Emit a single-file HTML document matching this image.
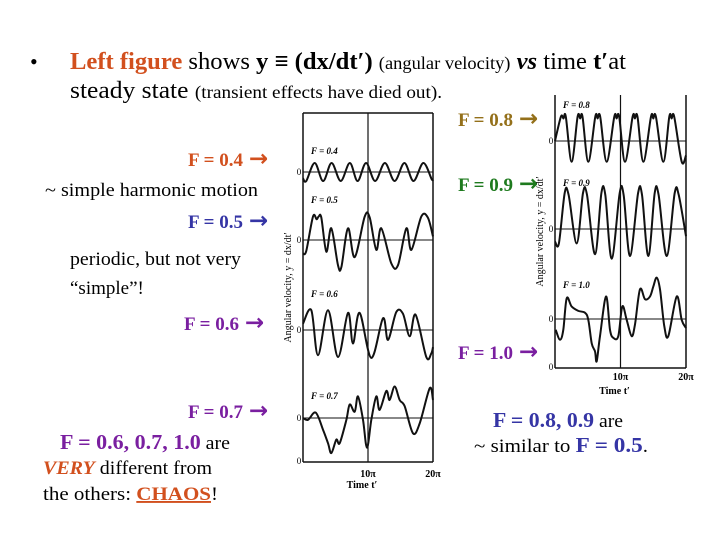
<!DOCTYPE html>
<html><head><meta charset="utf-8"><style>
html,body{margin:0;padding:0;background:#fff;}
svg{display:block;font-family:"Liberation Serif",serif;}
.b{font-weight:bold;}
.ar{font-family:"DejaVu Sans",sans-serif;font-weight:bold;}
</style></head><body>
<svg id="s" width="720" height="540" viewBox="0 0 720 540">
<g font-size="24">
<text x="30" y="69" font-size="22">•</text>
<text x="70" y="69" textLength="556" lengthAdjust="spacingAndGlyphs"><tspan class="b" fill="#d2501e">Left figure</tspan> shows <tspan class="b">y ≡ (dx/dt′)</tspan> <tspan font-size="18">(angular velocity)</tspan> <tspan font-style="italic" font-weight="bold">vs</tspan> time <tspan class="b">t′</tspan>at</text>
<text x="70" y="98" textLength="372" lengthAdjust="spacingAndGlyphs">steady state <tspan font-size="18">(transient effects have died out).</tspan></text>
</g>
<g font-size="19">
<text x="458" y="126" fill="#94701a" font-weight="bold">F = 0.8<tspan class="ar" dx="6" font-size="23">→</tspan></text>
<text x="188" y="166" fill="#d2501e" font-weight="bold">F = 0.4<tspan class="ar" dx="6" font-size="23">→</tspan></text>
<text x="188" y="228" fill="#3535a5" font-weight="bold">F = 0.5<tspan class="ar" dx="6" font-size="23">→</tspan></text>
<text x="184" y="330" fill="#7a1fa0" font-weight="bold">F = 0.6<tspan class="ar" dx="6" font-size="23">→</tspan></text>
<text x="458" y="191" fill="#1e7a1e" font-weight="bold">F = 0.9<tspan class="ar" dx="6" font-size="23">→</tspan></text>
<text x="458" y="359" fill="#7a1fa0" font-weight="bold">F = 1.0<tspan class="ar" dx="6" font-size="23">→</tspan></text>
<text x="188" y="418" fill="#7a1fa0" font-weight="bold">F = 0.7<tspan class="ar" dx="6" font-size="23">→</tspan></text>
</g>
<g font-size="19">
<text x="45" y="196" textLength="213" lengthAdjust="spacingAndGlyphs">~ simple harmonic motion</text>
<text x="70" y="265" textLength="171" lengthAdjust="spacingAndGlyphs">periodic, but not very</text>
<text x="70" y="294">“simple”!</text>
<text x="60" y="449" textLength="170" lengthAdjust="spacingAndGlyphs"><tspan font-size="21" font-weight="bold" fill="#7a1fa0">F = 0.6, 0.7, 1.0</tspan> are</text>
<text x="43" y="474" textLength="169" lengthAdjust="spacingAndGlyphs"><tspan font-weight="bold" font-style="italic" fill="#d2501e">VERY</tspan> different from</text>
<text x="43" y="500" textLength="175" lengthAdjust="spacingAndGlyphs">the others:  <tspan font-weight="bold" fill="#d2501e" text-decoration="underline">CHAOS</tspan>!</text>
<text x="493" y="427" textLength="130" lengthAdjust="spacingAndGlyphs"><tspan font-size="21" font-weight="bold" fill="#3535a5">F = 0.8, 0.9</tspan> are</text>
<text x="474" y="452" textLength="174" lengthAdjust="spacingAndGlyphs">~ similar  to <tspan font-size="21" font-weight="bold" fill="#3535a5">F = 0.5</tspan>.</text>
</g>
<g id="left"></g>
<g id="right"></g>
</svg>
<script>
const f04T=[0,0.5,1.8,3.1,4.4,5.8,7.2,8.4,9.7,11.1,12.6,14.1,15.6,17,18.5,19.8,20];
const f04Y=[-0.7,-1,1,-1,1,-1,1,-1,1,-1,1,-1,1,-1,1,-0.8,-0.8];
const f05T=[0,0.5,1.54,2.1,2.4,2.82,3.59,4.36,5.38,5.9,6.92,7.95,9.49,10.26,11.28,12.05,13.59,14.62,15.9,16.67,18.2,19.2,20];
const f05Y=[-1.5,-1.2,2.6,2.3,2.6,2.5,-1.3,1.3,-2.8,-3.0,1.3,-1.9,2.6,2.5,-1.1,1.3,-2.6,-2.8,1.3,-1.1,2.6,2.5,0.4];
const f06T=[0,1.28,2.31,3.85,5.38,6.92,7.69,8.72,10.51,12.31,13.08,14.36,15.38,16.41,17.33,18.97,19.74,20];
const f06Y=[0.7,2.2,-2.8,2.2,-3.0,1.9,-1.5,1.9,-3.1,1.3,-1.1,2.0,1.8,-0.7,1.7,-3.0,-2.6,-1.9];
const f07T=[0,0.77,1.95,3.08,3.85,4.36,5.13,5.64,6.67,7.18,7.95,8.46,9.23,9.85,10.51,11.28,11.79,12.82,13.33,14.1,14.87,15.64,16.92,17.95,19.49,20];
const f07Y=[0,-0.2,0.6,-1.3,-2.8,-3.9,-2.4,-2.8,-0.2,1.5,0.7,2.4,-0.2,-3.3,-0.2,2.4,0.9,3.0,2.0,3.5,2.0,1.3,-1.7,-0.6,3.3,2.0];
const f08T=[0,0.9,1.3,1.65,2.54,3.45,3.85,4.2,5.09,6.15,6.5,6.9,7.89,9.05,9.4,9.8,10.69,11.85,12.2,12.6,13.49,14.65,15,15.4,16.54,17.45,17.8,18.2,19.34,20];
const f08Y=[0,2.7,2.5,2.7,-2.3,2.7,2.5,2.7,-2.3,2.7,2.5,2.7,-2.3,2.7,2.5,2.7,-2.3,2.7,2.5,2.7,-2.3,2.7,2.5,2.7,-2.3,2.7,2.5,2.7,-2.3,-1.6];
const f09T=[0,0.6,1.48,2.08,3.31,4.28,4.88,6.11,7.08,7.68,8.65,9.88,10.48,11.45,12.68,13.28,14.25,15.22,15.82,17.05,18.28,18.88,20];
const f09Y=[-1.4,-1.6,4.0,3.8,-1.6,4.0,3.8,-2.8,4.0,3.8,-3.3,4.0,3.8,-3.0,4.0,3.8,-3.0,4.0,3.8,-3.0,4.0,3.8,-0.8];
const f10T=[0.1,0.76,1.27,1.78,2.54,3.56,4.58,5.09,5.6,6.11,6.36,6.87,7.79,8.4,8.91,9.67,10.28,10.94,11.7,12.21,12.98,13.74,14.5,15.01,15.52,16.03,16.69,17.3,18.58,19.34,20];
const f10Y=[-1.2,-2.3,-1.2,2.3,1.4,0.9,0.7,-0.1,-2.7,-3.6,-4.7,-1.9,2.5,-1.2,-2.1,-1.9,1.4,-0.1,-1.9,-0.6,3.3,2.2,2.5,3.6,4.6,3.3,-0.8,-1.9,2.5,-0.1,-1.0];
const NS='http://www.w3.org/2000/svg';
function mk(tag,attrs,parent,txt){const e=document.createElementNS(NS,tag);for(const k in attrs)e.setAttribute(k,attrs[k]);if(txt!==undefined)e.textContent=txt;parent.appendChild(e);return e;}
const UNIT=9;
function panel(g,x0,x1,top,bottom,hasTop,tickOff,titleOff,series){
  const xs=t=>x0+(t/20)*(x1-x0);
  const xm=xs(10);
  let l;
  l=mk('line',{x1:x0,y1:top,x2:x0,y2:bottom,stroke:'#111','stroke-width':1.5},g);
  
  
  l=mk('line',{x1:x1,y1:top,x2:x1,y2:bottom,stroke:'#111','stroke-width':1.5},g);
  
  
  l=mk('line',{x1:xm,y1:top,x2:xm,y2:bottom,stroke:'#111','stroke-width':1.2},g);
  
  
  l=mk('line',{x1:x0,y1:bottom,x2:x1,y2:bottom,stroke:'#111','stroke-width':1.5},g);
  
  
  if(hasTop){l=mk('line',{x1:x0,y1:top,x2:x1,y2:top,stroke:'#111','stroke-width':1.5},g);
  
  }
  let t=mk('text',{x:x0-4,y:bottom+2,'font-size':9,'text-anchor':'middle'},g,'0');
  
  
  t=mk('text',{x:xm,y:bottom+tickOff,'font-size':10,'font-weight':'bold','text-anchor':'middle'},g,'10π');
  
  
  t=mk('text',{x:x1,y:bottom+tickOff,'font-size':10,'font-weight':'bold','text-anchor':'middle'},g,'20π');
  
  
  t=mk('text',{x:xm-6,y:bottom+titleOff,'font-size':10,'font-weight':'bold','text-anchor':'middle'},g,'Time t′');
  
  
  const cy=(top+bottom)/2;
  t=mk('text',{x:x0-12,y:cy,'font-size':10,'text-anchor':'middle',transform:`rotate(-90 ${x0-12} ${cy})`},g,'Angular velocity, y = dx/dt′');
  
  
  series.forEach(s=>{
    const z=s.zero;
    let ln=mk('line',{x1:x0,y1:z,x2:x1,y2:z,stroke:'#111','stroke-width':1},g);
    
    
    let lb=mk('text',{x:x0-4,y:z+3,'font-size':9,'text-anchor':'middle'},g,'0');
    
    
    lb=mk('text',{x:x0+8,y:s.ly,'font-size':9,'font-style':'italic','font-weight':'bold'},g,s.name);
    
    
    const P=s.T.map((tt,i)=>[xs(tt),z-s.Y[i]*UNIT]);
    let d='M'+P[0][0].toFixed(1)+','+P[0][1].toFixed(1);
    for(let i=0;i<P.length-1;i++){
      const p0=P[Math.max(0,i-1)],p1=P[i],p2=P[i+1],p3=P[Math.min(P.length-1,i+2)];
      const c1=[p1[0]+(p2[0]-p0[0])/6,p1[1]+(p2[1]-p0[1])/6];
      const c2=[p2[0]-(p3[0]-p1[0])/6,p2[1]-(p3[1]-p1[1])/6];
      d+=` C${c1[0].toFixed(1)},${c1[1].toFixed(1)} ${c2[0].toFixed(1)},${c2[1].toFixed(1)} ${p2[0].toFixed(1)},${p2[1].toFixed(1)}`;
    }
    const pth=mk('path',{d:d,fill:'none',stroke:'#111','stroke-width':2,'stroke-linejoin':'round'},g);
    
    
  });
}
panel(document.getElementById('left'),303,433,113,462,true,15,26,[
 {id:'series-f04',name:'F = 0.4',zero:172,ly:154,T:f04T,Y:f04Y},
 {id:'series-f05',name:'F = 0.5',zero:240,ly:203,T:f05T,Y:f05Y},
 {id:'series-f06',name:'F = 0.6',zero:330,ly:297,T:f06T,Y:f06Y},
 {id:'series-f07',name:'F = 0.7',zero:418,ly:399,T:f07T,Y:f07Y}]);
panel(document.getElementById('right'),555,686,95,368,false,12,26,[
 {id:'series-f08',name:'F = 0.8',zero:141,ly:108,T:f08T,Y:f08Y},
 {id:'series-f09',name:'F = 0.9',zero:229,ly:186,T:f09T,Y:f09Y},
 {id:'series-f10',name:'F = 1.0',zero:319,ly:288,T:f10T,Y:f10Y}]);
</script>
</body></html>
